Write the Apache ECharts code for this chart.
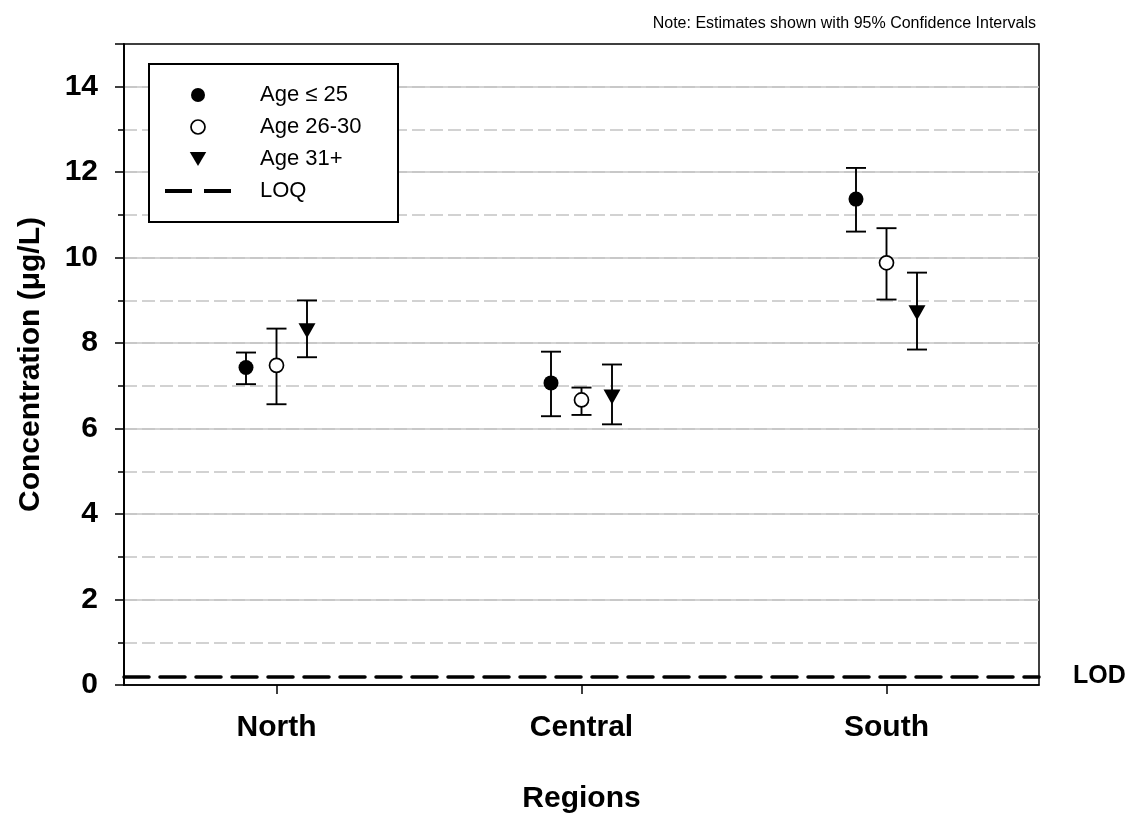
<!DOCTYPE html>
<html>
<head>
<meta charset="utf-8">
<title>Concentration by Region and Age Group</title>
<script src="https://cdn.jsdelivr.net/npm/echarts@6/dist/echarts.min.js"></script>
<style>
  html, body { margin: 0; padding: 0; background: #fff; }
  #chart { width: 1136px; height: 817px; }
</style>
</head>
<body>
<div id="chart"></div>
<script>
// Regions along the x axis
const regions = ['North', 'Central', 'South'];

// Age-group estimates per region (µg/L), with 95% confidence limits
const ageUnder25 = [7.43, 7.07, 11.37];
const ageUnder25Lo = [7.04, 6.29, 10.61];
const ageUnder25Hi = [7.78, 7.80, 12.10];

const age26to30 = [7.48, 6.67, 9.88];
const age26to30Lo = [6.57, 6.32, 9.02];
const age26to30Hi = [8.34, 6.96, 10.69];

const age31plus = [8.29, 6.74, 8.71];
const age31plusLo = [7.67, 6.10, 7.85];
const age31plusHi = [9.00, 7.50, 9.65];

// Detection limit line
const lodValue = 0.2;

// Y tick values that get a label
const yTickLabels = [0, 2, 4, 6, 8, 10, 12, 14];

const FONT = 'Liberation Sans, Arial, sans-serif';
// Side-by-side shift of each age group within a region band (in category units)
const groupShift = [-0.1, 0, 0.1];
const DOWN_TRIANGLE = 'path://M0,0 L2,0 L1,1.7 Z';

const groups = [
  { name: 'Age \u2264 25', est: ageUnder25, lo: ageUnder25Lo, hi: ageUnder25Hi,
    symbol: 'circle', size: 15, fill: '#000' },
  { name: 'Age 26-30', est: age26to30, lo: age26to30Lo, hi: age26to30Hi,
    symbol: 'circle', size: 14, fill: '#fff' },
  { name: 'Age 31+', est: age31plus, lo: age31plusLo, hi: age31plusHi,
    symbol: DOWN_TRIANGLE, size: [17, 15], fill: '#000' }
];

function errorBarItem(params, api) {
  const x = api.value(0);
  const top = api.coord([x, api.value(2)]);
  const bottom = api.coord([x, api.value(1)]);
  const half = 10;
  const style = { stroke: '#000', lineWidth: 1.9 };
  return {
    type: 'group',
    children: [
      { type: 'line', shape: { x1: top[0], y1: top[1], x2: bottom[0], y2: bottom[1] }, style },
      { type: 'line', shape: { x1: top[0] - half, y1: top[1], x2: top[0] + half, y2: top[1] }, style },
      { type: 'line', shape: { x1: bottom[0] - half, y1: bottom[1], x2: bottom[0] + half, y2: bottom[1] }, style }
    ]
  };
}

const series = [];
groups.forEach((g, gi) => {
  // estimate markers
  series.push({
    type: 'scatter',
    name: g.name,
    xAxisIndex: 1,
    yAxisIndex: 0,
    symbol: g.symbol,
    symbolSize: g.size,
    itemStyle: { color: g.fill, borderColor: '#000', borderWidth: g.fill === '#fff' ? 1.7 : 0, opacity: 1 },
    data: regions.map((r, i) => [i + groupShift[gi], g.est[i]]),
    z: 5
  });
  // confidence-interval whiskers
  series.push({
    type: 'custom',
    name: g.name,
    xAxisIndex: 1,
    yAxisIndex: 0,
    renderItem: errorBarItem,
    encode: { x: 0, y: [1, 2] },
    itemStyle: { color: '#000' },
    data: regions.map((r, i) => [i + groupShift[gi], g.lo[i], g.hi[i]]),
    z: 3,
    silent: true
  });
});

series.push({
  type: 'line',
  name: 'LOQ',
  xAxisIndex: 1,
  yAxisIndex: 0,
  data: [],
  itemStyle: { color: '#000' },
  markLine: {
    silent: true,
    symbol: 'none',
    lineStyle: { color: '#000', width: 3.5, type: [25, 11], cap: 'round' },
    label: {
      show: true, position: 'end', distance: 34,
      formatter: 'LOD', color: '#000', fontFamily: FONT, fontWeight: 'bold', fontSize: 25
    },
    data: [{ yAxis: lodValue }]
  }
});

const chart = echarts.init(document.getElementById('chart'), null, { renderer: 'canvas' });
chart.setOption({
  animation: false,
  backgroundColor: '#fff',
  textStyle: { fontFamily: FONT, color: '#000' },
  title: {
    text: 'Note: Estimates shown with 95% Confidence Intervals',
    right: 95, top: 11,
    textStyle: { fontFamily: FONT, fontSize: 16, fontWeight: 'normal', color: '#000' }
  },
  grid: {
    left: 124, right: 97, top: 44, bottom: 132,
    containLabel: false,
    outerBoundsMode: 'none',
    show: true, borderColor: '#000', borderWidth: 1.5, backgroundColor: 'transparent'
  },
  graphic: [{
    type: 'rect', left: 148, top: 63, z: 10,
    shape: { width: 249, height: 158 },
    style: { fill: '#fff', stroke: '#000', lineWidth: 2 }
  }],
  legend: {
    orient: 'vertical', left: 165, top: 84, z: 11,
    itemWidth: 66, itemHeight: 14, itemGap: 10,
    padding: 0,
    textStyle: { fontFamily: FONT, fontSize: 22, color: '#000', lineHeight: 22, padding: [0, 0, 0, 24] },
    data: [
      { name: 'Age \u2264 25', icon: 'circle', itemStyle: { color: '#000', borderWidth: 0 } },
      { name: 'Age 26-30', icon: 'circle', itemStyle: { color: '#fff', borderColor: '#000', borderWidth: 1.7 } },
      { name: 'Age 31+', icon: DOWN_TRIANGLE, itemStyle: { color: '#000', borderWidth: 0 } },
      { name: 'LOQ', icon: 'path://M0,0 H27 V4 H0 Z M39,0 H66 V4 H39 Z', itemStyle: { color: '#000', borderWidth: 0 } }
    ]
  },
  xAxis: [{
    type: 'category',
    data: regions,
    boundaryGap: true,
    name: 'Regions',
    nameLocation: 'middle',
    nameGap: 99,
    nameTextStyle: { fontFamily: FONT, fontSize: 30, fontWeight: 'bold', color: '#000' },
    axisLine: { show: true, onZero: false, lineStyle: { color: '#000', width: 1.5 } },
    axisTick: { show: true, alignWithLabel: true, length: 9, lineStyle: { color: '#000', width: 1.5 } },
    axisLabel: { margin: 28, fontFamily: FONT, fontSize: 30, fontWeight: 'bold', color: '#000' },
    splitLine: { show: false }
  }, {
    type: 'value',
    show: false,
    min: -0.5, max: 2.5,
    axisLine: { onZero: false },
    splitLine: { show: false }
  }],
  yAxis: [{
    type: 'value',
    min: 0, max: 15, interval: 1,
    axisLine: { show: true, onZero: false, lineStyle: { color: '#000', width: 1.5 } },
    axisTick: { show: true, length: 6, lineStyle: { color: '#000', width: 1.5 } },
    axisLabel: { show: false },
    splitLine: { show: true, showMinLine: false, showMaxLine: false,
      lineStyle: { color: '#c4c4c4', width: 1.5, type: [13, 5] } }
  }, {
    type: 'value',
    position: 'left',
    min: 0, max: 15, interval: 2,
    name: 'Concentration (\u03bcg/L)',
    nameLocation: 'middle',
    nameGap: 78,
    nameTextStyle: { fontFamily: FONT, fontSize: 30, fontWeight: 'bold', color: '#000' },
    axisLine: { show: true, onZero: false, lineStyle: { color: '#000', width: 1.5 } },
    axisTick: { show: true, length: 9, lineStyle: { color: '#000', width: 1.5 } },
    axisLabel: {
      margin: 26, fontFamily: FONT, fontSize: 30, fontWeight: 'bold', color: '#000',
      formatter: v => (yTickLabels.indexOf(v) >= 0 ? String(v) : '')
    },
    splitLine: { show: true, showMinLine: false, showMaxLine: false,
      lineStyle: { color: '#c4c4c4', width: 1.5, type: 'solid' } }
  }],
  series
});
</script>
</body>
</html>
